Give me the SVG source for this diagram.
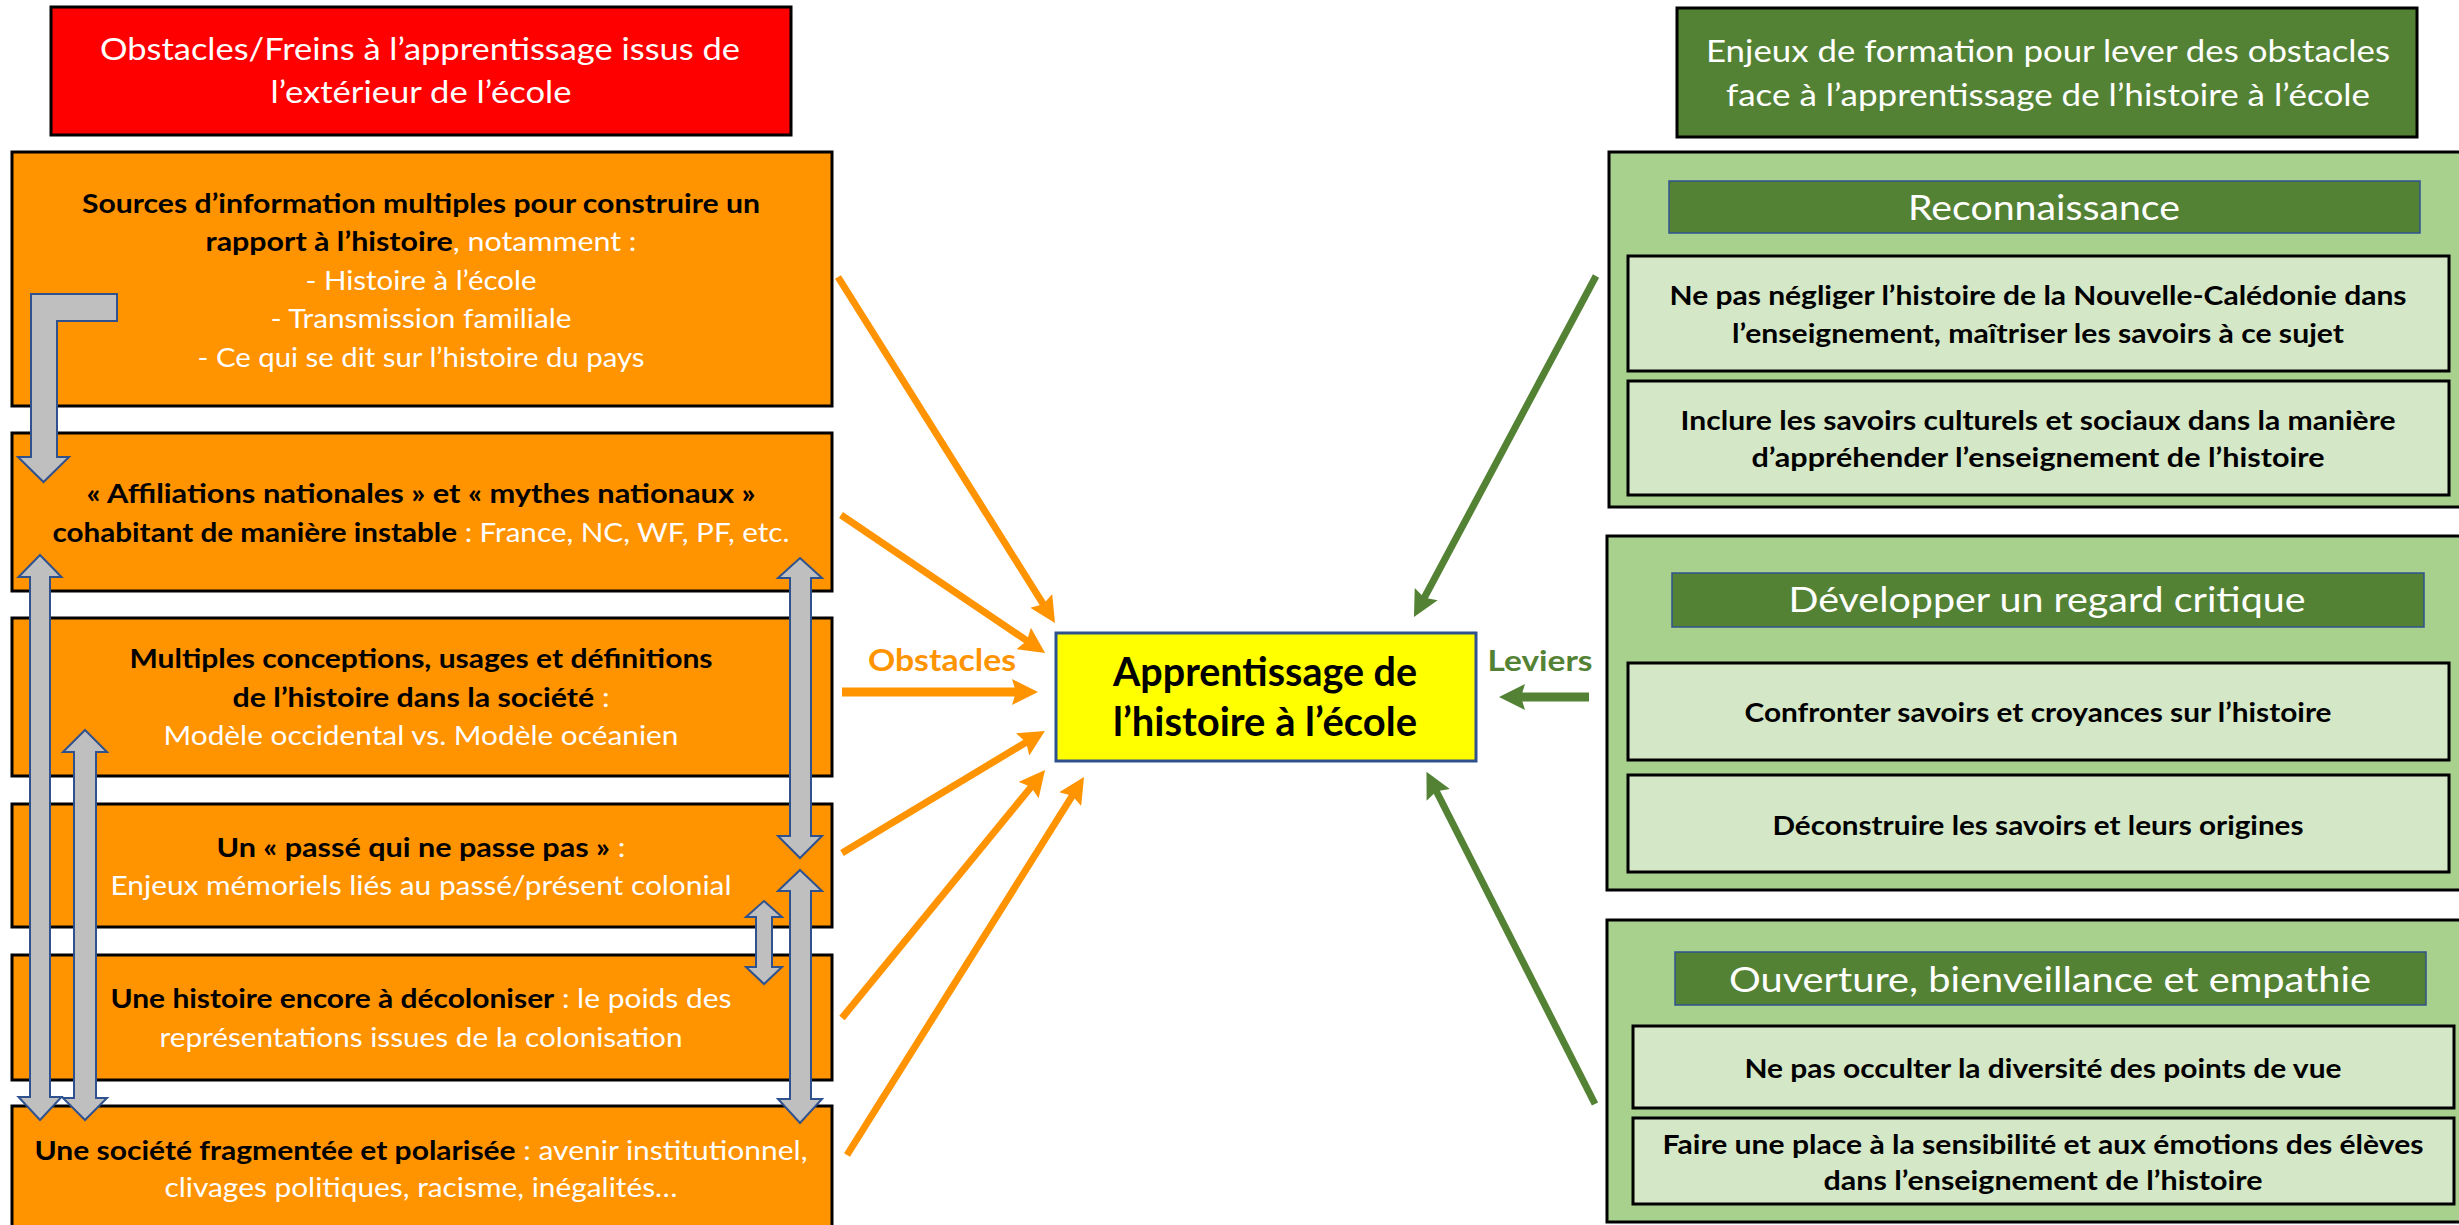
<svg xmlns="http://www.w3.org/2000/svg" width="2459" height="1225" viewBox="0 0 2459 1225">
<style>
text{font-family:Lato,"Liberation Sans",sans-serif;text-anchor:middle}
.b{font-weight:bold}
.w{fill:#FFFFFF}
.k{fill:#000000}
.obox{fill:#FF9300;stroke:#000;stroke-width:3}
.lt{font-size:26.5px}
.rt{font-size:27.5px;font-weight:bold;fill:#000}
.title{font-size:31px;fill:#FFFFFF}
.hdr{font-size:35px;fill:#FFFFFF}
.outer{fill:#A9D18E;stroke:#000;stroke-width:3}
.inner{fill:#D4E7C7;stroke:#000;stroke-width:3}
.head{fill:#548235;stroke:#2F528F;stroke-width:1.5}
.gray{fill:#BFBFBF;stroke:#2F528F;stroke-width:2;stroke-linejoin:miter}
.oa{stroke:#FF9300;stroke-width:7;fill:none;marker-end:url(#ho)}
.ga{stroke:#548235;stroke-width:7;fill:none;marker-end:url(#hg)}
</style>
<defs>
<marker id="ho" viewBox="0 0 26 26" refX="10" refY="13" markerWidth="26" markerHeight="26" markerUnits="userSpaceOnUse" orient="auto"><path d="M0,0 L26,13 L0,26 L4,13 z" fill="#FF9300"/></marker>
<marker id="hg" viewBox="0 0 26 26" refX="10" refY="13" markerWidth="26" markerHeight="26" markerUnits="userSpaceOnUse" orient="auto"><path d="M0,0 L26,13 L0,26 L4,13 z" fill="#548235"/></marker>
</defs>
<rect width="2459" height="1225" fill="#FFFFFF"/>

<g id="title-left">
<rect x="51" y="7" width="740" height="128" fill="#FF0000" stroke="#000" stroke-width="3"/>
<text class="title" x="420" y="60" textLength="640" lengthAdjust="spacingAndGlyphs">Obstacles/Freins à l’apprentissage issus de</text>
<text class="title" x="421" y="103" textLength="301" lengthAdjust="spacingAndGlyphs">l’extérieur de l’école</text>
</g>

<g id="obstacle-1">
<rect class="obox" x="12" y="152" width="820" height="254"/>
<text class="lt" x="421" y="213" textLength="678" lengthAdjust="spacingAndGlyphs"><tspan class="b k">Sources d’information multiples pour construire un</tspan></text>
<text class="lt" x="421" y="251" textLength="431" lengthAdjust="spacingAndGlyphs"><tspan class="b k">rapport à l’histoire</tspan><tspan class="w">, notamment :</tspan></text>
<text class="lt w" x="421" y="290" textLength="231" lengthAdjust="spacingAndGlyphs">- Histoire à l’école</text>
<text class="lt w" x="421" y="328" textLength="301" lengthAdjust="spacingAndGlyphs">- Transmission familiale</text>
<text class="lt w" x="421" y="367" textLength="447" lengthAdjust="spacingAndGlyphs">- Ce qui se dit sur l’histoire du pays</text>
</g>

<g id="obstacle-2">
<rect class="obox" x="12" y="433" width="820" height="158"/>
<text class="lt b k" x="421" y="503" textLength="669" lengthAdjust="spacingAndGlyphs">« Affiliations nationales » et « mythes nationaux »</text>
<text class="lt" x="421" y="542" textLength="737" lengthAdjust="spacingAndGlyphs"><tspan class="b k">cohabitant de manière instable</tspan><tspan class="w"> : France, NC, WF, PF, etc.</tspan></text>
</g>

<g id="obstacle-3">
<rect class="obox" x="12" y="618" width="820" height="158"/>
<text class="lt b k" x="421" y="668" textLength="583" lengthAdjust="spacingAndGlyphs">Multiples conceptions, usages et définitions</text>
<text class="lt" x="421" y="707" textLength="377" lengthAdjust="spacingAndGlyphs"><tspan class="b k">de l’histoire dans la société</tspan><tspan class="w"> :</tspan></text>
<text class="lt w" x="421" y="745" textLength="515" lengthAdjust="spacingAndGlyphs">Modèle occidental vs. Modèle océanien</text>
</g>

<g id="obstacle-4">
<rect class="obox" x="12" y="804" width="820" height="123"/>
<text class="lt" x="421" y="857" textLength="409" lengthAdjust="spacingAndGlyphs"><tspan class="b k">Un « passé qui ne passe pas »</tspan><tspan class="w"> :</tspan></text>
<text class="lt w" x="421" y="895" textLength="621" lengthAdjust="spacingAndGlyphs">Enjeux mémoriels liés au passé/présent colonial</text>
</g>

<g id="obstacle-5">
<rect class="obox" x="12" y="955" width="820" height="125"/>
<text class="lt" x="421" y="1008" textLength="621" lengthAdjust="spacingAndGlyphs"><tspan class="b k">Une histoire encore à décoloniser</tspan><tspan class="w"> : le poids des</tspan></text>
<text class="lt w" x="421" y="1047" textLength="523" lengthAdjust="spacingAndGlyphs">représentations issues de la colonisation</text>
</g>

<g id="obstacle-6">
<rect class="obox" x="12" y="1106" width="820" height="140"/>
<text class="lt" x="421" y="1160" textLength="773" lengthAdjust="spacingAndGlyphs"><tspan class="b k">Une société fragmentée et polarisée</tspan><tspan class="w"> : avenir institutionnel,</tspan></text>
<text class="lt w" x="421" y="1197" textLength="513" lengthAdjust="spacingAndGlyphs">clivages politiques, racisme, inégalités…</text>
</g>

<g id="center">
<rect x="1056" y="633" width="420" height="128" fill="#FFFF00" stroke="#2F528F" stroke-width="3"/>
<text class="b k" style="font-size:40px" x="1265" y="686" textLength="304" lengthAdjust="spacingAndGlyphs">Apprentissage de</text>
<text class="b k" style="font-size:40px" x="1265" y="736" textLength="304" lengthAdjust="spacingAndGlyphs">l’histoire à l’école</text>
</g>

<g id="title-right">
<rect x="1677" y="8" width="740" height="129" fill="#548235" stroke="#000" stroke-width="3"/>
<text class="title" x="2048" y="62" textLength="684" lengthAdjust="spacingAndGlyphs">Enjeux de formation pour lever des obstacles</text>
<text class="title" x="2048" y="106" textLength="644" lengthAdjust="spacingAndGlyphs">face à l’apprentissage de l’histoire à l’école</text>
</g>

<g id="group-reconnaissance">
<rect class="outer" x="1609" y="152" width="870" height="355"/>
<rect class="head" x="1669" y="181" width="751" height="52"/>
<text class="hdr" x="2044" y="220" textLength="272" lengthAdjust="spacingAndGlyphs">Reconnaissance</text>
<rect class="inner" x="1628" y="256" width="821" height="115"/>
<text class="rt" x="2038" y="305" textLength="737" lengthAdjust="spacingAndGlyphs">Ne pas négliger l’histoire de la Nouvelle-Calédonie dans</text>
<text class="rt" x="2038" y="343" textLength="612" lengthAdjust="spacingAndGlyphs">l’enseignement, maîtriser les savoirs à ce sujet</text>
<rect class="inner" x="1628" y="381" width="821" height="114"/>
<text class="rt" x="2038" y="430" textLength="715" lengthAdjust="spacingAndGlyphs">Inclure les savoirs culturels et sociaux dans la manière</text>
<text class="rt" x="2038" y="467" textLength="573" lengthAdjust="spacingAndGlyphs">d’appréhender l’enseignement de l’histoire</text>
</g>

<g id="group-regard-critique">
<rect class="outer" x="1607" y="536" width="870" height="354"/>
<rect class="head" x="1672" y="573" width="752" height="54"/>
<text class="hdr" x="2047" y="612" textLength="517" lengthAdjust="spacingAndGlyphs">Développer un regard critique</text>
<rect class="inner" x="1628" y="663" width="821" height="97"/>
<text class="rt" x="2038" y="722" textLength="587" lengthAdjust="spacingAndGlyphs">Confronter savoirs et croyances sur l’histoire</text>
<rect class="inner" x="1628" y="775" width="821" height="97"/>
<text class="rt" x="2038" y="835" textLength="531" lengthAdjust="spacingAndGlyphs">Déconstruire les savoirs et leurs origines</text>
</g>

<g id="group-ouverture">
<rect class="outer" x="1607" y="920" width="870" height="302"/>
<rect class="head" x="1675" y="952" width="751" height="53"/>
<text class="hdr" x="2050" y="992" textLength="642" lengthAdjust="spacingAndGlyphs">Ouverture, bienveillance et empathie</text>
<rect class="inner" x="1633" y="1026" width="821" height="82"/>
<text class="rt" x="2043" y="1078" textLength="597" lengthAdjust="spacingAndGlyphs">Ne pas occulter la diversité des points de vue</text>
<rect class="inner" x="1633" y="1118" width="821" height="86"/>
<text class="rt" x="2043" y="1154" textLength="761" lengthAdjust="spacingAndGlyphs">Faire une place à la sensibilité et aux émotions des élèves</text>
<text class="rt" x="2043" y="1190" textLength="439" lengthAdjust="spacingAndGlyphs">dans l’enseignement de l’histoire</text>
</g>

<g id="connectors">
<polygon class="gray" points="31,294 117,294 117,321 57,321 57,457 69,457 43.5,482 18,457 31,457"/>
<polygon class="gray" points="40,555 61.5,577 50,577 50,1097 61.5,1097 40,1120 18.5,1097 30,1097 30,577 18.5,577"/>
<polygon class="gray" points="85,730 107,752 96,752 96,1098 107,1098 85,1120 63,1098 74,1098 74,752 63,752"/>
<polygon class="gray" points="800,558 822,578 811,578 811,836 822,836 800,858 778,836 790,836 790,578 778,578"/>
<polygon class="gray" points="800,870 822,891 811,891 811,1099 822,1099 800,1123 778,1099 790,1099 790,891 778,891"/>
<polygon class="gray" points="764,901 782,917 772,917 772,967 782,967 764,984 746,967 756,967 756,917 746,917"/>
<line class="oa" x1="838" y1="277" x2="1046.5" y2="609.4"/>
<line class="oa" x1="841" y1="515" x2="1031.9" y2="644.1"/>
<line class="oa" x1="842" y1="692" x2="1022" y2="692" style="stroke-width:9"/>
<line class="oa" x1="842" y1="853" x2="1031.2" y2="739.2"/>
<line class="oa" x1="842" y1="1018" x2="1034.9" y2="782.4"/>
<line class="oa" x1="847" y1="1155" x2="1075.5" y2="790.6"/>
<line class="ga" x1="1596" y1="276" x2="1421.5" y2="603"/>
<line class="ga" x1="1589" y1="697" x2="1515" y2="697" style="stroke-width:9"/>
<line class="ga" x1="1595" y1="1104" x2="1433.7" y2="786"/>
<text class="b" style="font-size:30px;fill:#FF9300" x="942" y="671" textLength="148" lengthAdjust="spacingAndGlyphs">Obstacles</text>
<text class="b" style="font-size:29px;fill:#548235" x="1540" y="671" textLength="105" lengthAdjust="spacingAndGlyphs">Leviers</text>
</g>
</svg>
